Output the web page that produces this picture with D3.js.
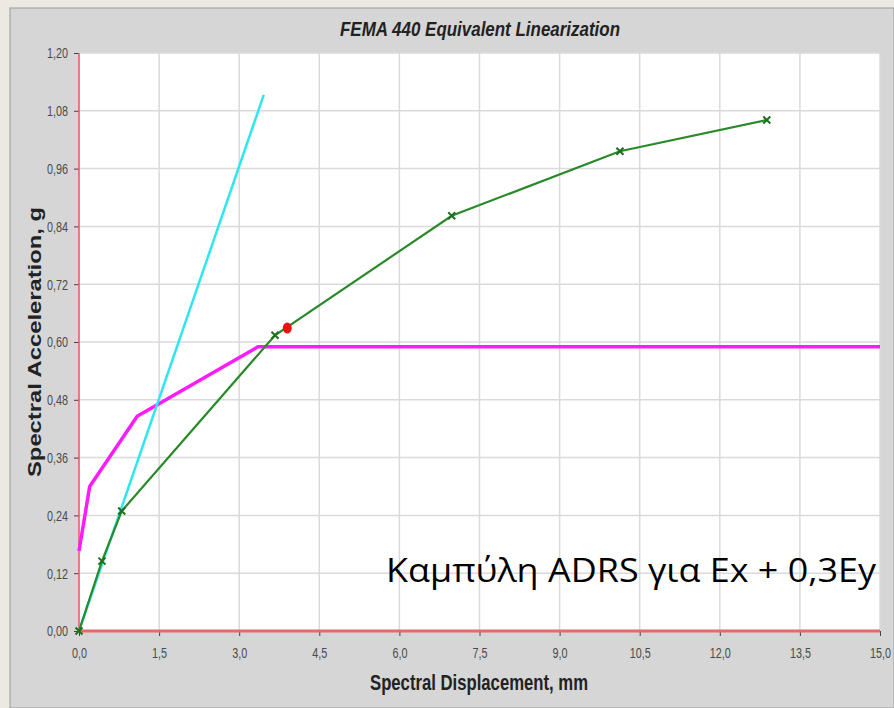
<!DOCTYPE html>
<html>
<head>
<meta charset="utf-8">
<script src="https://cdn.jsdelivr.net/npm/d3@7"></script>
<style>
  body { margin: 0; background: #ece9e2; }
  svg { display: block; }
</style>
</head>
<body>
<div id="chart"></div>
<script>
// data
const capacityX = [0, 0.43, 0.80, 3.67, 6.98, 10.13, 12.88];
const capacityY = [0, 0.145, 0.249, 0.614, 0.862, 0.996, 1.061];
const demandX = [0, 0.2, 1.09, 3.35, 15.0];
const demandY = [0.166, 0.30, 0.446, 0.59, 0.59];
const elasticX = [0, 3.46];
const elasticY = [0, 1.113];
const perfPoint = [3.9, 0.629];
const xTicks = [0, 1.5, 3, 4.5, 6, 7.5, 9, 10.5, 12, 13.5, 15];
const yTicks = [0, 0.12, 0.24, 0.36, 0.48, 0.60, 0.72, 0.84, 0.96, 1.08, 1.20];

const width = 894;
const height = 708;
const plot = { left: 79, right: 880, top: 53, bottom: 631 };

const svg = d3.select("#chart")
    .append("svg")
    .attr("width", width)
    .attr("height", height);

// grey panel
svg.append("rect")
    .attr("x", 10).attr("y", 8)
    .attr("width", width - 10).attr("height", height - 8)
    .attr("fill", "#d6d6d6")
    .attr("stroke", "#9a9a9a")
    .attr("stroke-width", 1);

svg.append("rect")
    .attr("x", plot.left).attr("y", plot.top)
    .attr("width", plot.right - plot.left).attr("height", plot.bottom - plot.top)
    .attr("fill", "#ffffff");

const x = d3.scaleLinear().domain([0, 15]).range([plot.left, plot.right]);
const y = d3.scaleLinear().domain([0, 1.2]).range([plot.bottom, plot.top]);

const fmt = d => d3.format(".1f")(d).replace(".", ",");
const fmtY = d => d3.format(".2f")(d).replace(".", ",");

// grid
svg.append("g")
    .selectAll("line")
    .data(xTicks.slice(1))
    .join("line")
        .attr("x1", d => x(d)).attr("x2", d => x(d))
        .attr("y1", plot.top).attr("y2", plot.bottom)
        .attr("stroke", "#dadada").attr("stroke-width", 1.5);

svg.append("g")
    .selectAll("line")
    .data(yTicks.slice(1))
    .join("line")
        .attr("x1", plot.left).attr("x2", plot.right)
        .attr("y1", d => y(d)).attr("y2", d => y(d))
        .attr("stroke", "#dadada").attr("stroke-width", 1.5);

// axes
const xAxis = svg.append("g")
    .attr("transform", `translate(0,${plot.bottom})`)
    .call(d3.axisBottom(x).tickValues(xTicks).tickFormat(fmt).tickSize(5).tickPadding(11));

const yAxis = svg.append("g")
    .attr("transform", `translate(${plot.left},0)`)
    .call(d3.axisLeft(y).tickValues(yTicks).tickFormat(fmtY).tickSize(5).tickPadding(6));

[xAxis, yAxis].forEach(a => {
    a.attr("font-size", 15).attr("font-family", "'Liberation Sans', Arial, sans-serif");
    a.select(".domain").remove();
    a.selectAll(".tick line").attr("stroke", "#444");
    a.selectAll(".tick text")
        .attr("fill", "#4a4a4a")
        .attr("font-size", 15)
        .attr("textLength", function() { return this.getComputedTextLength() * 0.72; })
        .attr("lengthAdjust", "spacingAndGlyphs");
});

svg.append("line")
    .attr("x1", plot.left).attr("x2", plot.left)
    .attr("y1", plot.top).attr("y2", plot.bottom)
    .attr("stroke", "#e05a5a").attr("stroke-width", 1.5);

svg.append("line")
    .attr("x1", plot.left).attr("x2", plot.right)
    .attr("y1", plot.bottom).attr("y2", plot.bottom)
    .attr("stroke", "#e36a6a").attr("stroke-width", 3);

// lines
const line = d3.line().x(d => x(d[0])).y(d => y(d[1]));

svg.append("path")
    .datum(d3.zip(demandX, demandY))
    .attr("d", line)
    .attr("fill", "none")
    .attr("stroke", "#ff1aff")
    .attr("stroke-width", 3.5)
    .attr("stroke-linejoin", "round");

svg.append("path")
    .datum(d3.zip(elasticX, elasticY))
    .attr("d", line)
    .attr("fill", "none")
    .attr("stroke", "#2ee6ee")
    .attr("stroke-width", 2.5);

const capacity = d3.zip(capacityX, capacityY);
svg.append("path")
    .datum(capacity)
    .attr("d", line)
    .attr("fill", "none")
    .attr("stroke", "#2a8a2a")
    .attr("stroke-width", 2.2);

svg.append("g")
    .selectAll("path")
    .data(capacity)
    .join("path")
        .attr("transform", d => `translate(${x(d[0])},${y(d[1])})`)
        .attr("d", "M-3.5,-3.5L3.5,3.5M-3.5,3.5L3.5,-3.5")
        .attr("stroke", "#1f6e1f")
        .attr("stroke-width", 2);

svg.append("ellipse")
    .attr("cx", x(perfPoint[0])).attr("cy", y(perfPoint[1]))
    .attr("rx", 4.5).attr("ry", 5.5)
    .attr("fill", "#ee1111");

// texts
svg.append("text")
    .attr("x", 340).attr("y", 36)
    .attr("textLength", 280)
    .attr("lengthAdjust", "spacingAndGlyphs")
    .style("font-family", "'Liberation Sans', Arial, sans-serif")
    .style("font-size", "21px")
    .style("font-weight", "bold")
    .style("font-style", "italic")
    .attr("fill", "#222")
    .text("FEMA 440 Equivalent Linearization");

svg.append("text")
    .attr("x", 370).attr("y", 690)
    .attr("textLength", 218)
    .attr("lengthAdjust", "spacingAndGlyphs")
    .style("font-family", "'Liberation Sans', Arial, sans-serif")
    .style("font-size", "22px")
    .style("font-weight", "bold")
    .attr("fill", "#222")
    .text("Spectral Displacement, mm");

svg.append("text")
    .attr("transform", "translate(41,477) rotate(-90)")
    .attr("textLength", 270)
    .attr("lengthAdjust", "spacingAndGlyphs")
    .style("font-family", "'Liberation Sans', Arial, sans-serif")
    .style("font-size", "19px")
    .style("font-weight", "bold")
    .attr("fill", "#222")
    .text("Spectral Acceleration, g");

svg.append("text")
    .attr("x", 386).attr("y", 582)
    .attr("textLength", 490)
    .attr("lengthAdjust", "spacingAndGlyphs")
    .style("font-family", "'Open Sans', 'Noto Sans', sans-serif")
    .style("font-size", "33px")
    .style("font-weight", "500")
    .attr("fill", "#000")
    .text("Καμπύλη ADRS για Ex + 0,3Ey");
</script>
</body>
</html>
